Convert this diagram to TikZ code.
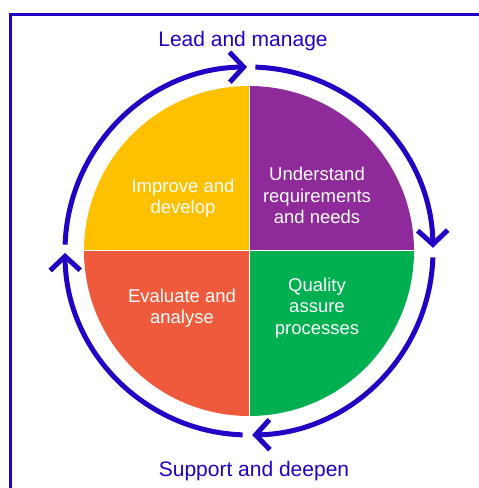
\documentclass[tikz,border=0pt]{standalone}
\usepackage{fontspec}
\setmainfont{Liberation Sans}
\usepackage{tikz}
\usetikzlibrary{arrows.meta}

\definecolor{ringblue}{HTML}{2200C4}
\definecolor{improvecol}{HTML}{FFC000}
\definecolor{understandcol}{HTML}{8E2A99}
\definecolor{qualitycol}{HTML}{00B050}
\definecolor{evaluatecol}{HTML}{F05A3C}

\begin{document}
\begin{tikzpicture}[x=1pt,y=1pt,
		ring/.style={ringblue,line width=5pt,-{Straight Barb[length=14pt,width=30pt]}},
		inlabel/.style={white,align=center,inner sep=0pt,font=\fontsize{18.5}{21.5}\selectfont},
		outlabel/.style={ringblue,inner sep=0pt,font=\fontsize{21}{25}\selectfont}]
		\useasboundingbox (0,0) rectangle (479,488);
%		\draw[help lines,step=20] (0,0) grid (479,488);
		\path (249,237) coordinate (hub);
		\path (10,0) coordinate (frame_lb);
		\path (10,473) coordinate (frame_lt);
		\path (482,473) coordinate (frame_rt);
		\path (243,447) coordinate (lead);
		\path (254,17) coordinate (support);
		\path (183,290) coordinate (improve);
		\path (317,292.5) coordinate (understand);
		\path (182,180) coordinate (evaluate);
		\path (317,180) coordinate (quality);

		\draw[ringblue,line width=3pt] (frame_lb) -- (frame_lt) -- (frame_rt);

		\fill[improvecol] (hub) -- ++(180:165) arc[start angle=180,end angle=90,radius=165] -- cycle;
		\fill[understandcol] (hub) -- ++(90:165) arc[start angle=90,end angle=0,radius=165] -- cycle;
		\fill[qualitycol] (hub) -- ++(0:165) arc[start angle=0,end angle=-90,radius=165] -- cycle;
		\fill[evaluatecol] (hub) -- ++(-90:165) arc[start angle=-90,end angle=-180,radius=165] -- cycle;
		\draw[white,line width=1pt] (hub) +(0,165) -- +(0,-165);
		\draw[white,line width=1pt] (hub) +(-165,0) -- +(165,0);

		\draw[ring] (hub) ++(88:184) arc[start angle=88,end angle=1,radius=184];
		\draw[ring] (hub) ++(-2:184) arc[start angle=-2,end angle=-89,radius=184];
		\draw[ring] (hub) ++(-92:184) arc[start angle=-92,end angle=-179.4,radius=184];
		\draw[ring] (hub) ++(178:184) arc[start angle=178,end angle=90.6,radius=184];

		\draw (lead) node[outlabel] (leadtext) {Lead and manage};
		\draw (support) node[outlabel] (supporttext) {Support and deepen};
		\draw (improve) node[inlabel] (improvetext) {Improve and\\develop};
		\draw (understand) node[inlabel] (understandtext) {Understand\\requirements\\and needs};
		\draw (evaluate) node[inlabel] (evaluatetext) {Evaluate and\\analyse};
		\draw (quality) node[inlabel] (qualitytext) {Quality\\assure\\processes};
	\end{tikzpicture}
\end{document}
